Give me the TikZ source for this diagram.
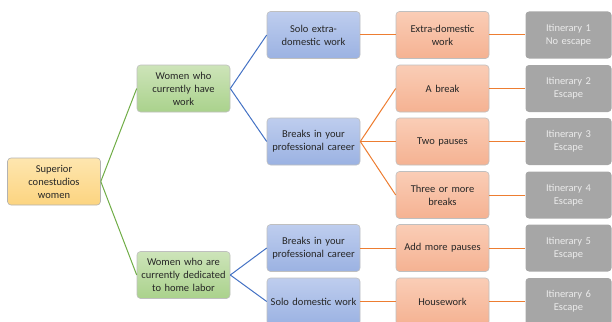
\documentclass[tikz,border=0pt]{standalone}
\usepackage{fontspec}
\setmainfont{Carlito}
\definecolor{lgreen}{HTML}{70AD47}
\definecolor{lblue}{HTML}{4472C4}
\definecolor{lorange}{HTML}{ED7D31}
\definecolor{txt}{HTML}{262626}
\tikzset{
  box/.style={rounded corners=3.5pt, minimum width=93pt, minimum height=47pt, text width=91pt, align=center, font=\fontsize{10.5}{13}\selectfont, text=txt, line width=0.6pt, inner sep=1pt},
  rootbox/.style={box, draw=black!30, top color={rgb,255:red,254;green,230;blue,175}, bottom color={rgb,255:red,252;green,212;blue,128}},
  greenbox/.style={box, draw=black!25, top color={rgb,255:red,205;green,228;blue,185}, bottom color={rgb,255:red,170;green,210;blue,140}},
  bluebox/.style={box, draw=black!25, top color={rgb,255:red,190;green,205;blue,238}, bottom color={rgb,255:red,155;green,178;blue,226}},
  orbox/.style={box, draw=black!25, top color={rgb,255:red,250;green,205;blue,182}, bottom color={rgb,255:red,245;green,178;blue,146}},
  graybox/.style={box, minimum width=86pt, text width=84pt, fill={rgb,255:red,166;green,166;blue,166}, draw=none, text={rgb,255:red,235;green,235;blue,235}},
  gline/.style={draw=lgreen, line width=1pt},
  bline/.style={draw=lblue, line width=1pt},
  oline/.style={draw=lorange, line width=1pt},
}
\begin{document}
\begin{tikzpicture}[x=1pt,y=-1pt]
\useasboundingbox (0,0) rectangle (612,321);
\clip (0,0) rectangle (612,321);
\node[rootbox] (root) at (54,181.5) {Superior\\conestudios\\women};
\node[greenbox] (g1) at (183.5,88.5) {Women who\\currently have\\work};
\node[greenbox] (g2) at (183.5,275) {Women who are\\currently dedicated\\to home labor};
\node[bluebox] (b1) at (313.5,35) {Solo extra-\\domestic work};
\node[bluebox] (b2) at (313.5,141.5) {Breaks in your\\professional career};
\node[bluebox] (b3) at (313.5,248) {Breaks in your\\professional career};
\node[bluebox] (b4) at (313.5,301.5) {Solo domestic work};
\node[orbox] (o1) at (442.5,35) {Extra-domestic\\work};
\node[orbox] (o2) at (442.5,88.5) {A break};
\node[orbox] (o3) at (442.5,141.5) {Two pauses};
\node[orbox] (o4) at (442.5,195) {Three or more\\breaks};
\node[orbox] (o5) at (442.5,248) {Add more pauses};
\node[orbox] (o6) at (442.5,301.5) {Housework};
\node[graybox] (i1) at (568.5,35) {Itinerary 1\\No escape};
\node[graybox] (i2) at (568.5,88.5) {Itinerary 2\\Escape};
\node[graybox] (i3) at (568.5,141.5) {Itinerary 3\\Escape};
\node[graybox] (i4) at (568.5,195) {Itinerary 4\\Escape};
\node[graybox] (i5) at (568.5,248) {Itinerary 5\\Escape};
\node[graybox] (i6) at (568.5,301.5) {Itinerary 6\\Escape};
\draw[gline] (root.east) -- (g1.west);
\draw[gline] (root.east) -- (g2.west);
\draw[bline] (g1.east) -- (b1.west);
\draw[bline] (g1.east) -- (b2.west);
\draw[bline] (g2.east) -- (b3.west);
\draw[bline] (g2.east) -- (b4.west);
\draw[oline] (b1.east) -- (o1.west);
\draw[oline] (b2.east) -- (o2.west);
\draw[oline] (b2.east) -- (o3.west);
\draw[oline] (b2.east) -- (o4.west);
\draw[oline] (b3.east) -- (o5.west);
\draw[oline] (b4.east) -- (o6.west);
\foreach \k in {1,...,6}{\draw[oline] (o\k.east) -- (i\k.west);}
\end{tikzpicture}
\end{document}
